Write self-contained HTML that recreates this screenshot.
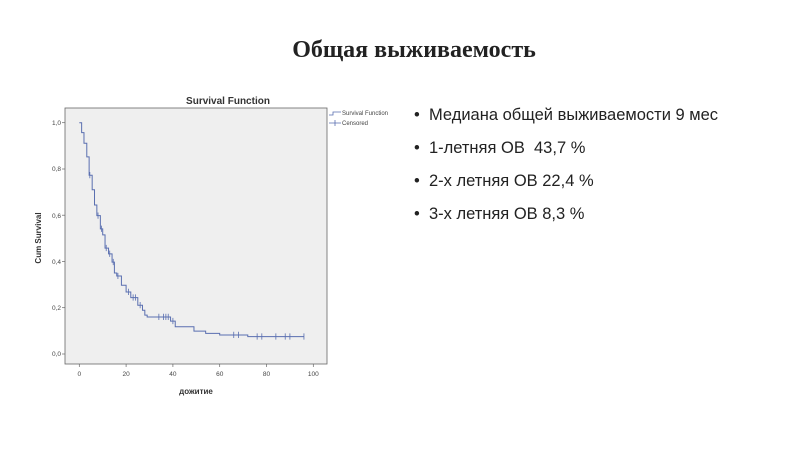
<!DOCTYPE html>
<html><head><meta charset="utf-8"><style>
body{margin:0;width:800px;height:450px;background:#fff;overflow:hidden;position:relative}
.t{position:absolute;left:0;width:828px;top:37px;text-align:center;font:bold 24px "Liberation Serif","Noto Serif CJK SC",serif;color:#222}
.b{position:absolute;left:414px;font:16.5px "Liberation Sans","Noto Sans CJK SC",sans-serif;color:#222;white-space:nowrap}
</style></head><body>
<div class="t">Общая выживаемость</div>
<div class="b" style="top:106px">•&nbsp; Медиана общей выживаемости 9 мес</div>
<div class="b" style="top:139px">•&nbsp; 1-летняя ОВ&nbsp; 43,7 %</div>
<div class="b" style="top:172px">•&nbsp; 2-х летняя ОВ 22,4 %</div>
<div class="b" style="top:205px">•&nbsp; 3-х летняя ОВ 8,3 %</div>
<svg width="800" height="450" style="position:absolute;left:0;top:0" font-family="Liberation Sans,sans-serif">
<text x="228" y="104" font-size="10" font-weight="bold" text-anchor="middle" fill="#333">Survival Function</text>
<rect x="65" y="108" width="262" height="256" fill="#efefef" stroke="#666" stroke-width="0.8"/>
<g font-size="6.5" fill="#444" text-anchor="end">
<text x="61" y="125">1,0</text><text x="61" y="171">0,8</text><text x="61" y="218">0,6</text><text x="61" y="264">0,4</text><text x="61" y="310">0,2</text><text x="61" y="356">0,0</text>
</g>
<g stroke="#666" stroke-width="0.7">
<line x1="62" y1="122.7" x2="65" y2="122.7"/><line x1="62" y1="169" x2="65" y2="169"/><line x1="62" y1="215.2" x2="65" y2="215.2"/><line x1="62" y1="261.5" x2="65" y2="261.5"/><line x1="62" y1="307.7" x2="65" y2="307.7"/><line x1="62" y1="354" x2="65" y2="354"/>
<line x1="79.3" y1="364" x2="79.3" y2="367"/><line x1="126.1" y1="364" x2="126.1" y2="367"/><line x1="172.9" y1="364" x2="172.9" y2="367"/><line x1="219.7" y1="364" x2="219.7" y2="367"/><line x1="266.5" y1="364" x2="266.5" y2="367"/><line x1="313.3" y1="364" x2="313.3" y2="367"/>
</g>
<g font-size="6.5" fill="#444" text-anchor="middle">
<text x="79.3" y="376">0</text><text x="126.1" y="376">20</text><text x="172.9" y="376">40</text><text x="219.7" y="376">60</text><text x="266.5" y="376">80</text><text x="313.3" y="376">100</text>
</g>
<text x="196" y="394" font-size="8" font-weight="bold" text-anchor="middle" fill="#333">дожитие</text>
<text transform="translate(41,238) rotate(-90)" font-size="8" font-weight="bold" text-anchor="middle" fill="#333">Cum Survival</text>
<g transform="matrix(2.34,0,0,-231.3,79.3,354)" fill="none" stroke="#5a6fb0">
<path vector-effect="non-scaling-stroke" stroke-width="1" d="M0,1 H1 V.957 H2 V.911 H3.2 V.852 H4.2 V.773 H5.5 V.71 H6.5 V.644 H7.5 V.598 H9 V.541 H10 V.515 H11 V.458 H12.5 V.433 H14 V.397 H15 V.35 H16 V.337 H18 V.297 H20 V.268 H22 V.244 H25 V.211 H27 V.189 H28 V.168 H29 V.16 H39 V.142 H41 V.118 H49 V.099 H54 V.089 H60 V.082 H72 V.075 H96"/>
<path vector-effect="non-scaling-stroke" stroke-width="0.8" d="M4.5,.76 V.787 M8,.585 V.612 M9.5,.528 V.555 M11.5,.445 V.472 M13,.42 V.447 M14.5,.384 V.411 M16.5,.324 V.351 M21,.255 V.282 M23,.231 V.258 M24,.231 V.258 M26,.198 V.225 M34,.147 V.174 M36,.147 V.174 M37,.147 V.174 M38,.147 V.174 M40,.129 V.156 M66,.069 V.096 M68,.069 V.096 M76,.062 V.089 M78,.062 V.089 M84,.062 V.089 M88,.062 V.089 M90,.062 V.089 M96,.062 V.089"/>
</g>
<g stroke="#5a6fb0" stroke-width="0.8" fill="none">
<path d="M329,115 H333 V112 H341"/><path d="M329,123 H341 M335,120 V126"/>
</g>
<g font-size="6" fill="#444"><text x="342" y="115">Survival Function</text><text x="342" y="125">Censored</text></g>
</svg>
</body></html>
